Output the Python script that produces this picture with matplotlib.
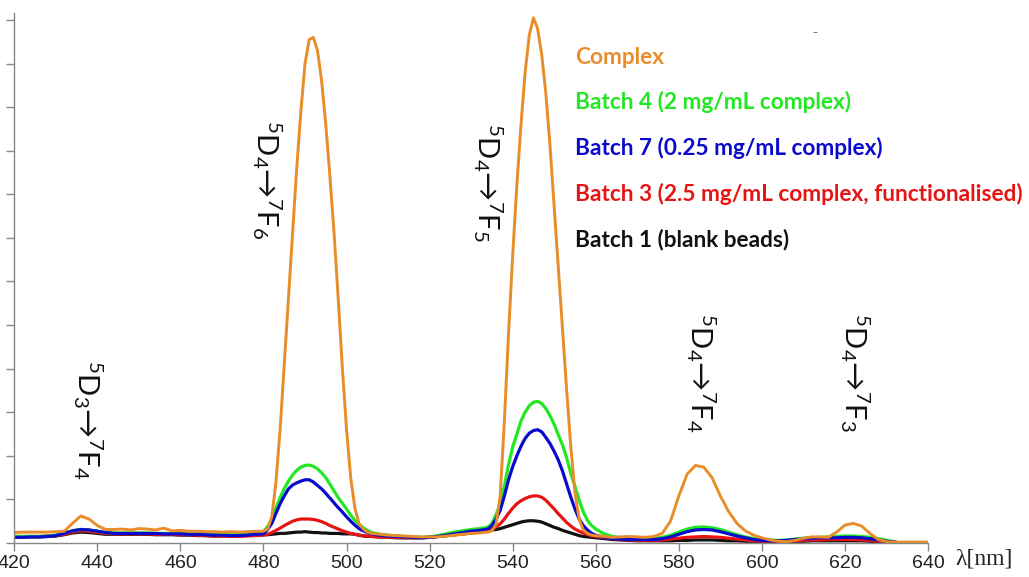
import matplotlib
matplotlib.use('Agg')
from matplotlib import pyplot as plt

# wavelength grid (nm): coarse on the flat parts, 1 nm across the big peaks
wl = (list(range(420, 480, 2)) + list(range(480, 506)) + list(range(506, 534, 2))
      + list(range(534, 560)) + list(range(560, 641, 2)))

complex_ = [0.24, 0.25, 0.25, 0.25, 0.25, 0.26, 0.27, 0.45, 0.62, 0.55, 0.40, 0.31, 0.31, 0.32, 0.30,
            0.33, 0.32, 0.30, 0.34, 0.28, 0.29, 0.27, 0.27, 0.26, 0.26, 0.25, 0.26, 0.25, 0.26, 0.27,
            0.27, 0.32, 0.6, 1.4, 2.6, 4.1, 5.6, 7.1, 8.6, 9.9, 11.0, 11.55, 11.6, 11.3, 10.6, 9.6,
            8.4, 7.1, 5.6, 4.0, 2.6, 1.5, 0.8, 0.45, 0.32, 0.25,
            0.22, 0.2, 0.18, 0.17, 0.16, 0.15, 0.14, 0.14, 0.14, 0.16, 0.18, 0.2, 0.22, 0.23,
            0.25, 0.28, 0.42, 1.1, 2.8, 4.8, 6.6, 8.2, 9.6, 10.8, 11.65, 12.05, 11.8, 11.2, 10.3, 9.1,
            7.7, 6.3, 4.9, 3.5, 2.2, 1.15, 0.55, 0.3, 0.22, 0.18,
            0.17, 0.15, 0.13, 0.14, 0.15, 0.14, 0.13, 0.15, 0.22, 0.5, 1.08, 1.58, 1.78, 1.74, 1.5,
            1.08, 0.72, 0.45, 0.28, 0.18, 0.12, 0.07, 0.04, 0.03, 0.06, 0.11, 0.14, 0.14, 0.13, 0.25,
            0.41, 0.45, 0.39, 0.22, 0.08, 0.03, 0.02, 0.02, 0.02, 0.02, 0.02]

batch4 = [0.15, 0.15, 0.15, 0.15, 0.16, 0.18, 0.23, 0.28, 0.31, 0.30, 0.27, 0.24, 0.23, 0.23, 0.23,
          0.23, 0.23, 0.22, 0.22, 0.22, 0.22, 0.21, 0.21, 0.20, 0.20, 0.19, 0.19, 0.19, 0.20, 0.22,
          0.26, 0.38, 0.53, 0.80, 1.04, 1.25, 1.42, 1.56, 1.67, 1.74, 1.78, 1.79, 1.76, 1.70, 1.61,
          1.50, 1.35, 1.19, 1.04, 0.91, 0.78, 0.64, 0.52, 0.43, 0.35, 0.29,
          0.24, 0.20, 0.18, 0.16, 0.15, 0.14, 0.13, 0.14, 0.17, 0.21, 0.25, 0.28, 0.31, 0.33,
          0.36, 0.45, 0.65, 0.90, 1.30, 1.80, 2.20, 2.50, 2.80, 3.00, 3.15, 3.23, 3.25, 3.20, 3.08,
          2.92, 2.72, 2.48, 2.25, 1.95, 1.60, 1.30, 0.98, 0.72, 0.52, 0.40,
          0.32, 0.21, 0.15, 0.12, 0.10, 0.09, 0.09, 0.10, 0.13, 0.18, 0.25, 0.32, 0.36, 0.37, 0.35,
          0.31, 0.25, 0.19, 0.14, 0.10, 0.08, 0.07, 0.06, 0.07, 0.09, 0.11, 0.12, 0.13, 0.14, 0.15,
          0.16, 0.16, 0.15, 0.13, 0.10, 0.06, 0.03]

batch7 = [0.13, 0.13, 0.14, 0.14, 0.15, 0.17, 0.22, 0.28, 0.31, 0.30, 0.27, 0.24, 0.22, 0.22, 0.22,
          0.22, 0.22, 0.22, 0.21, 0.21, 0.21, 0.20, 0.20, 0.19, 0.18, 0.18, 0.17, 0.17, 0.18, 0.20,
          0.21, 0.31, 0.45, 0.68, 0.90, 1.08, 1.24, 1.33, 1.38, 1.42, 1.45, 1.45, 1.40, 1.32, 1.24,
          1.14, 1.03, 0.92, 0.81, 0.71, 0.60, 0.50, 0.41, 0.33, 0.28, 0.24,
          0.21, 0.18, 0.16, 0.15, 0.14, 0.13, 0.12, 0.13, 0.15, 0.18, 0.21, 0.24, 0.27, 0.29,
          0.32, 0.40, 0.55, 0.75, 1.08, 1.45, 1.75, 2.00, 2.22, 2.40, 2.52, 2.58, 2.60, 2.55, 2.42,
          2.28, 2.10, 1.90, 1.65, 1.35, 1.05, 0.78, 0.55, 0.40, 0.30, 0.22,
          0.18, 0.13, 0.10, 0.09, 0.08, 0.08, 0.08, 0.08, 0.10, 0.14, 0.20, 0.26, 0.30, 0.31, 0.30,
          0.26, 0.21, 0.16, 0.12, 0.08, 0.06, 0.05, 0.05, 0.06, 0.08, 0.10, 0.11, 0.12, 0.12, 0.12,
          0.13, 0.13, 0.12, 0.10, 0.07, 0.04, 0.02]

batch3 = [0.15, 0.15, 0.15, 0.15, 0.16, 0.17, 0.20, 0.25, 0.28, 0.27, 0.24, 0.22, 0.21, 0.21, 0.21,
          0.21, 0.21, 0.20, 0.20, 0.20, 0.19, 0.19, 0.18, 0.17, 0.16, 0.16, 0.15, 0.15, 0.16, 0.17,
          0.18, 0.20, 0.24, 0.29, 0.34, 0.40, 0.45, 0.50, 0.53, 0.55, 0.55, 0.55, 0.54, 0.52, 0.49,
          0.45, 0.40, 0.36, 0.32, 0.28, 0.25, 0.22, 0.20, 0.18, 0.17, 0.16,
          0.15, 0.14, 0.13, 0.13, 0.12, 0.12, 0.12, 0.13, 0.15, 0.17, 0.19, 0.21, 0.23, 0.26,
          0.29, 0.33, 0.37, 0.44, 0.55, 0.68, 0.80, 0.90, 0.97, 1.02, 1.06, 1.08, 1.08, 1.05, 0.98,
          0.88, 0.78, 0.67, 0.57, 0.47, 0.39, 0.32, 0.27, 0.23, 0.20, 0.17,
          0.15, 0.12, 0.10, 0.08, 0.07, 0.06, 0.06, 0.06, 0.07, 0.09, 0.11, 0.13, 0.14, 0.15, 0.14,
          0.13, 0.11, 0.09, 0.07, 0.05, 0.04, 0.04, 0.04, 0.04, 0.05, 0.06, 0.07, 0.07, 0.08, 0.08,
          0.08, 0.08, 0.07, 0.06, 0.04, 0.03, 0.02]

batch1 = [0.14, 0.14, 0.14, 0.14, 0.15, 0.16, 0.19, 0.23, 0.25, 0.24, 0.22, 0.20, 0.20, 0.20, 0.20,
          0.20, 0.20, 0.19, 0.19, 0.19, 0.18, 0.18, 0.17, 0.17, 0.16, 0.16, 0.16, 0.17, 0.18, 0.19,
          0.19, 0.19, 0.20, 0.21, 0.22, 0.22, 0.23, 0.24, 0.25, 0.25, 0.26, 0.25, 0.24, 0.24, 0.23,
          0.23, 0.22, 0.22, 0.22, 0.21, 0.21, 0.21, 0.20, 0.18, 0.16, 0.15,
          0.15, 0.14, 0.13, 0.12, 0.12, 0.12, 0.12, 0.13, 0.15, 0.17, 0.19, 0.21, 0.23, 0.26,
          0.28, 0.30, 0.31, 0.33, 0.36, 0.39, 0.42, 0.45, 0.48, 0.50, 0.51, 0.51, 0.50, 0.48, 0.44,
          0.40, 0.36, 0.33, 0.29, 0.26, 0.23, 0.20, 0.17, 0.15, 0.14, 0.13,
          0.12, 0.10, 0.08, 0.07, 0.06, 0.05, 0.05, 0.05, 0.05, 0.05, 0.06, 0.06, 0.07, 0.07, 0.07,
          0.06, 0.05, 0.05, 0.04, 0.04, 0.03, 0.03, 0.03, 0.03, 0.04, 0.04, 0.05, 0.05, 0.05, 0.05,
          0.05, 0.05, 0.05, 0.04, 0.03, 0.02, 0.02]

names = ['Complex', 'Batch 4 (2 mg/mL complex)', 'Batch 7 (0.25 mg/mL complex)',
         'Batch 3 (2.5 mg/mL complex, functionalised)', 'Batch 1 (blank beads)']

transitions = [r'$^{5}$D$_{3}$→$^{7}$F$_{4}$', r'$^{5}$D$_{4}$→$^{7}$F$_{6}$',
               r'$^{5}$D$_{4}$→$^{7}$F$_{5}$', r'$^{5}$D$_{4}$→$^{7}$F$_{4}$',
               r'$^{5}$D$_{4}$→$^{7}$F$_{3}$']
trans_x = [437.7, 480.9, 534.1, 585.3, 622.3]
trans_y = [2.82, 8.33, 8.26, 3.9, 3.92]

c_orange = '#e88d2a'
c_green = '#22e822'
c_blue = '#0a0acc'
c_red = '#e81414'
c_black = '#111111'

plt.rcParams['mathtext.fontset'] = 'custom'
plt.rcParams['mathtext.rm'] = 'Lato'
plt.rcParams['mathtext.it'] = 'Lato:italic'

fig = plt.figure(figsize=(10.29, 5.77), dpi=100)
ax = fig.add_axes([14.3 / 1029, 34 / 577, (928 - 14.3) / 1029, 530 / 577])

ax.plot(wl[:len(batch1)], batch1, color=c_black, lw=2.3)
ax.plot(wl[:len(batch3)], batch3, color=c_red, lw=2.3)
ax.plot(wl[:len(batch4)], batch4, color=c_green, lw=2.3)
ax.plot(wl[:len(batch7)], batch7, color=c_blue, lw=2.3)
ax.plot(wl, complex_, color=c_orange, lw=2.1)

ax.set_xlim(420, 640)
ax.set_ylim(0, 12.16)
ax.set_xticks(range(420, 641, 20))
ax.set_yticks(range(0, 13))
ax.set_yticklabels([])
for s in ['top', 'right']:
    ax.spines[s].set_visible(False)
for s in ['left', 'bottom']:
    ax.spines[s].set_color('#888888')
    ax.spines[s].set_linewidth(1.0)
ax.tick_params(axis='both', colors='#888888', length=6, width=1.0)
ax.tick_params(axis='x', labelcolor='#222222', labelsize=14, pad=3)
for lab in ax.get_xticklabels():
    lab.set_family('Liberation Sans')

for t, x, y in zip(transitions, trans_x, trans_y):
    ax.text(x, y, t, rotation=270, ha='center', va='center', fontsize=21,
            family=['Lato', 'DejaVu Sans'], color='#111111')

colors = [c_orange, c_green, c_blue, c_red, c_black]
legend_y = [57, 102, 148, 194, 240]
for n, c, y in zip(names, colors, legend_y):
    fig.text(575 / 1029, 1 - y / 577, n, color=c, fontsize=16.3, fontweight='bold',
             family='Lato', ha='left', va='center')

fig.text(815 / 1029, 1 - 32 / 577, '–', fontsize=7, color='#666666', ha='center', va='center')

fig.text(984 / 1029, 1 - 559 / 577, 'λ[nm]', fontsize=17, family='Liberation Serif',
         ha='center', va='center', color='#222222')

fig.savefig('out.png', dpi=100)
